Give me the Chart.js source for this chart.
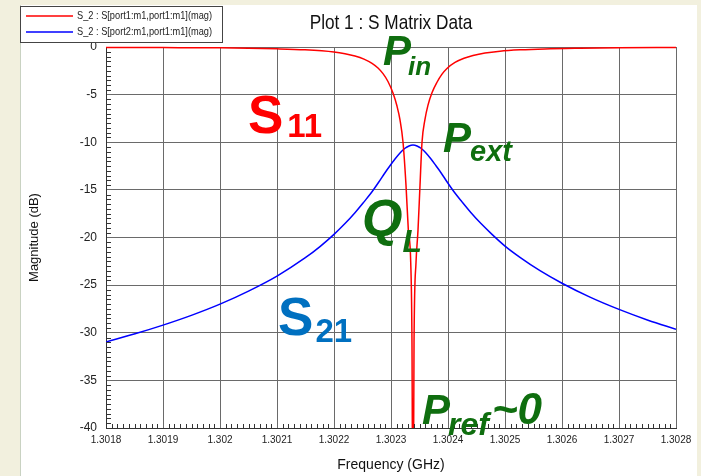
<!DOCTYPE html>
<html>
<head>
<meta charset="utf-8">
<title>Plot 1 : S Matrix Data</title>
<script src="https://cdn.jsdelivr.net/npm/chart.js@4.4.1/dist/chart.umd.min.js"></script>
<style>
  html, body { margin: 0; padding: 0; background: #f2f0de; }
  #wrap { width: 701px; height: 476px; }
</style>
</head>
<body>
<div id="wrap"><canvas id="plot" width="701" height="476"></canvas></div>
<script>
// S11 (reflection) - frequency in GHz, magnitude in dB
const freqS11 = [1.3018, 1.3019, 1.3020, 1.3021, 1.3021491, 1.3022, 1.3022193, 1.3022368,
  1.3022526, 1.3022667, 1.3022772, 1.3022860, 1.3022947, 1.3023035, 1.3023105, 1.3023158,
  1.3023211, 1.3023263, 1.3023304, 1.3023346, 1.3023368, 1.3023386, 1.3023404, 1.3023439,
  1.3023474, 1.3023509, 1.3023544, 1.3023596, 1.3023649, 1.3023719, 1.3023807, 1.3023895,
  1.3023982, 1.3024123, 1.3024281, 1.3024439, 1.3024649, 1.3024912, 1.3025263, 1.3025702,
  1.3026316, 1.3027, 1.3028];
const magS11 = [-0.04, -0.06, -0.09, -0.19, -0.29, -0.52, -0.70, -0.94,
  -1.27, -1.72, -2.21, -2.80, -3.62, -4.83, -6.2, -7.66,
  -10.0, -14.5, -19.2, -22.6, -31, -55, -31, -22.6,
  -19.2, -14.5, -10.0, -7.6, -6.1, -4.8, -3.7, -2.85,
  -2.25, -1.62, -1.18, -0.89, -0.63, -0.44, -0.30, -0.20,
  -0.13, -0.08, -0.05];

// S21 (transmission)
const freqS21 = [1.3018, 1.3018509, 1.3019, 1.3019509, 1.3020, 1.3020509, 1.3021, 1.3021491,
  1.3021754, 1.3022, 1.3022193, 1.3022368, 1.3022526, 1.3022667, 1.3022789, 1.3022895,
  1.3022982, 1.3023070, 1.3023158, 1.3023246, 1.3023316, 1.3023386, 1.3023456, 1.3023526,
  1.3023614, 1.3023702, 1.3023789, 1.3023877, 1.3023982, 1.3024105, 1.3024246, 1.3024404,
  1.3024579, 1.3024772, 1.3025, 1.3025263, 1.3025614, 1.3026, 1.3026491, 1.3027,
  1.3027509, 1.3028];
const magS21 = [-30.97, -30.11, -29.2, -28.15, -27.0, -25.6, -24.05, -22.15,
  -20.95, -19.67, -18.54, -17.4, -16.26, -15.2, -14.15, -13.2,
  -12.47, -11.76, -11.12, -10.63, -10.39, -10.3, -10.39, -10.63,
  -11.12, -11.76, -12.47, -13.2, -14.15, -15.2, -16.26, -17.4,
  -18.54, -19.67, -20.9, -22.08, -23.48, -24.8, -26.26, -27.55,
  -28.68, -29.64];

const xTickValues = [1.3018, 1.3019, 1.3020, 1.3021, 1.3022, 1.3023, 1.3024, 1.3025, 1.3026, 1.3027, 1.3028];
const yTickValues = [-40, -35, -30, -25, -20, -15, -10, -5, 0];
const seriesLabels = ['S_2 : S[port1:m1,port1:m1](mag)', 'S_2 : S[port2:m1,port1:m1](mag)'];

const GREEN = '#0f6e0f';
const SANS = '"Liberation Sans", Arial, sans-serif';

// big labels drawn on the plot, anchored in data units (baseline-left of main glyph)
const notes = [
  { text: 'P', sub: 'in', f: 1.3022860, db: -1.84, size: 42, subSize: 26, subDrop: 10, subGap: -3, color: GREEN },
  { text: 'P', sub: 'ext', f: 1.3023912, db: -11.0, size: 42, subSize: 29, subDrop: 9, subGap: -1, color: GREEN },
  { text: 'Q', sub: 'L', f: 1.3022491, db: -19.84, size: 52, subSize: 32, subDrop: 16, subGap: 0, color: GREEN },
  { text: 'P', sub: 'ref', after: '~0', f: 1.3023544, db: -39.53, size: 42, subSize: 32, subDrop: 11, subGap: -2, color: GREEN },
  { text: 'S', sub: '11', f: 1.3020491, db: -9.0, size: 53, subSize: 33, subDrop: 4, subGap: 4, color: '#ff0000', upright: true },
  { text: 'S', sub: '21', f: 1.3021018, db: -30.26, size: 53, subSize: 33, subDrop: 7, subGap: 2, color: '#0070c0', upright: true }
];

function toPoints(xs, ys) {
  return xs.map(function (x, i) { return { x: x, y: ys[i] }; });
}

// narrow text: squeeze the glyphs horizontally around the anchor
function narrowText(ctx, text, x, y, squeeze) {
  ctx.save();
  ctx.translate(x, y);
  ctx.scale(squeeze, 1);
  ctx.fillText(text, 0, 0);
  ctx.restore();
}

// page panel, legend box, title, minor ticks and the annotations
const decorations = {
  id: 'decorations',
  beforeDraw: function (chart) {
    const ctx = chart.ctx;
    ctx.save();
    ctx.fillStyle = '#f2f0de';
    ctx.fillRect(0, 0, chart.width, chart.height);
    ctx.fillStyle = '#ffffff';
    ctx.fillRect(20, 5, 677, chart.height - 5);
    ctx.strokeStyle = '#c9d2c2';
    ctx.beginPath();
    ctx.moveTo(20.5, 5);
    ctx.lineTo(20.5, chart.height);
    ctx.stroke();
    ctx.restore();
  },
  afterDraw: function (chart) {
    const ctx = chart.ctx;
    const xs = chart.scales.x, ys = chart.scales.y;
    const area = chart.chartArea;
    ctx.save();

    // minor ticks
    ctx.strokeStyle = '#333';
    ctx.lineWidth = 1;
    ctx.beginPath();
    for (let i = 0; i <= 80; i++) {
      if (i % 10 === 0) continue;
      const py = Math.round(ys.getPixelForValue(-40 + i * 0.5)) + 0.5;
      ctx.moveTo(area.left, py);
      ctx.lineTo(area.left + 5, py);
    }
    for (let i = 0; i <= 100; i++) {
      if (i % 10 === 0) continue;
      const px = Math.round(xs.getPixelForValue(1.3018 + i * 0.00001)) + 0.5;
      ctx.moveTo(px, area.bottom);
      ctx.lineTo(px, area.bottom - 4);
    }
    ctx.stroke();

    // title
    ctx.fillStyle = '#111';
    ctx.font = '21px ' + SANS;
    ctx.textAlign = 'center';
    ctx.textBaseline = 'middle';
    narrowText(ctx, 'Plot 1 : S Matrix Data', (area.left + area.right) / 2, 23, 0.82);

    // legend
    ctx.fillStyle = '#ffffff';
    ctx.fillRect(20.5, 6.5, 202, 36);
    ctx.strokeStyle = '#444';
    ctx.strokeRect(20.5, 6.5, 202, 36);
    ctx.font = '11px ' + SANS;
    ctx.textAlign = 'left';
    chart.data.datasets.forEach(function (ds, i) {
      const ly = 16 + i * 16;
      ctx.strokeStyle = ds.borderColor;
      ctx.lineWidth = 1.5;
      ctx.beginPath();
      ctx.moveTo(26, ly);
      ctx.lineTo(73, ly);
      ctx.stroke();
      ctx.fillStyle = '#222';
      narrowText(ctx, ds.label, 77, ly, 0.84);
    });

    // annotations
    ctx.textBaseline = 'alphabetic';
    notes.forEach(function (n) {
      const px = xs.getPixelForValue(n.f);
      const py = ys.getPixelForValue(n.db);
      const style = n.upright ? 'bold ' : 'italic bold ';
      ctx.fillStyle = n.color;
      ctx.font = style + n.size + 'px ' + SANS;
      ctx.fillText(n.text, px, py);
      const w = ctx.measureText(n.text).width;
      ctx.font = style + n.subSize + 'px ' + SANS;
      const sx = px + w + n.subGap;
      ctx.fillText(n.sub, sx, py + n.subDrop);
      if (n.after) {
        const sw = ctx.measureText(n.sub).width;
        ctx.font = style + (n.size + 2) + 'px ' + SANS;
        ctx.fillText(n.after, sx + sw + 3, py);
      }
    });
    ctx.restore();
  }
};

const ctx = document.getElementById('plot').getContext('2d');
new Chart(ctx, {
  type: 'line',
  data: {
    datasets: [{
      label: seriesLabels[0],
      data: toPoints(freqS11, magS11),
      borderColor: '#ff0000',
      borderWidth: 1.5,
      pointRadius: 0,
      cubicInterpolationMode: 'monotone',
      clip: { left: 0, top: 3, right: 0, bottom: 0 }
    }, {
      label: seriesLabels[1],
      data: toPoints(freqS21, magS21),
      borderColor: '#0000ff',
      borderWidth: 1.5,
      pointRadius: 0,
      cubicInterpolationMode: 'monotone',
      clip: { left: 0, top: 3, right: 0, bottom: 0 }
    }]
  },
  options: {
    responsive: false,
    animation: false,
    events: [],
    layout: { padding: { left: 20, top: 47, right: 25, bottom: 0 } },
    plugins: {
      legend: { display: false },
      title: { display: false },
      tooltip: { enabled: false }
    },
    scales: {
      x: {
        type: 'linear',
        min: 1.3018,
        max: 1.3028,
        afterBuildTicks: function (scale) {
          scale.ticks = xTickValues.map(function (v) { return { value: v }; });
        },
        afterFit: function (scale) { scale.height = 48; },
        grid: { color: '#6a6a6a', drawTicks: false },
        border: { color: '#333' },
        ticks: {
          padding: 6,
          maxRotation: 0,
          autoSkip: false,
          color: '#222',
          font: { family: SANS, size: 10 },
          callback: function (v) { return Number(v.toFixed(4)).toString(); }
        },
        title: {
          display: true,
          text: 'Frequency (GHz)',
          color: '#111',
          font: { family: SANS, size: 14 },
          padding: { top: 0, bottom: 2 }
        }
      },
      y: {
        min: -40,
        max: 0,
        afterBuildTicks: function (scale) {
          scale.ticks = yTickValues.map(function (v) { return { value: v }; });
        },
        afterFit: function (scale) { scale.width = 86; },
        grid: { color: '#6a6a6a', drawTicks: false },
        border: { color: '#333' },
        ticks: {
          padding: 9,
          color: '#222',
          font: { family: SANS, size: 12 }
        },
        title: {
          display: true,
          text: 'Magnitude (dB)',
          color: '#111',
          font: { family: SANS, size: 13 },
          padding: { top: 7, bottom: 0 }
        }
      }
    }
  },
  plugins: [decorations]
});
</script>
</body>
</html>
